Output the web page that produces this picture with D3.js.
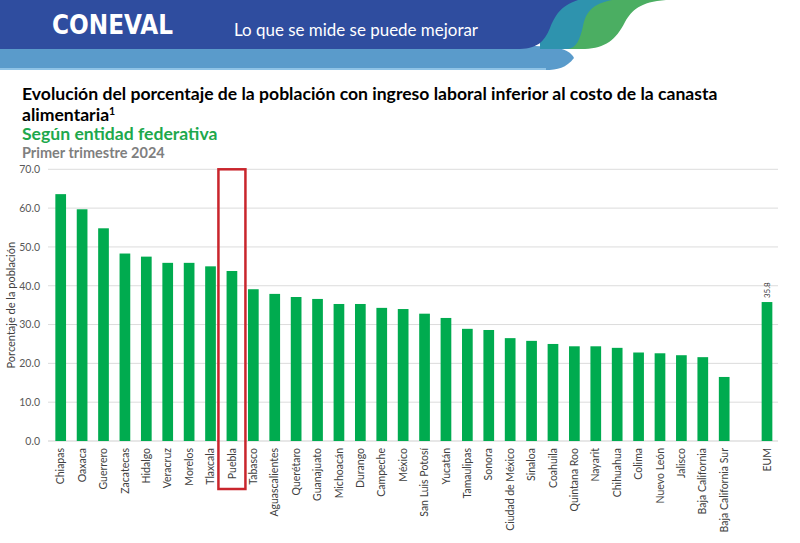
<!DOCTYPE html>
<html>
<head>
<meta charset="utf-8">
<script src="https://cdn.jsdelivr.net/npm/d3@7/dist/d3.min.js"></script>
<style>
  html, body { margin: 0; padding: 0; background: #fff; }
  svg { display: block; }
</style>
</head>
<body>
<svg id="chart" width="800" height="543"></svg>
<script>
// ---- Data ----
const states = ["Chiapas","Oaxaca","Guerrero","Zacatecas","Hidalgo","Veracruz","Morelos","Tlaxcala","Puebla","Tabasco","Aguascalientes","Querétaro","Guanajuato","Michoacán","Durango","Campeche","México","San Luis Potosí","Yucatán","Tamaulipas","Sonora","Ciudad de México","Sinaloa","Coahuila","Quintana Roo","Nayarit","Chihuahua","Colima","Nuevo León","Jalisco","Baja California","Baja California Sur"];
const stateValues = [63.6,59.7,54.8,48.3,47.5,45.9,45.9,45.0,43.8,39.1,37.9,37.1,36.6,35.3,35.3,34.3,34.0,32.8,31.7,28.9,28.6,26.5,25.8,25.0,24.4,24.4,24.0,22.8,22.6,22.1,21.6,16.5];
const nationalLabel = "EUM";
const nationalValue = 35.8;
const yTicks = [0,10,20,30,40,50,60,70];
const highlighted = "Puebla";

const titleLine1 = "Evolución del porcentaje de la población con ingreso laboral inferior al costo de la canasta";
const titleLine2 = "alimentaria";
const subtitle = "Según entidad federativa";
const period = "Primer trimestre 2024";
const yTitle = "Porcentaje de la población";

const bars = states.map((s, i) => ({ name: s, value: stateValues[i] }));
bars.push({ name: nationalLabel, value: nationalValue });

const svg = d3.select("#chart");
const FONT = "Lato, 'Open Sans', 'DejaVu Sans', sans-serif";

// ---- Header ----
const hdr = svg.append("g");
// light blue lower band
hdr.append("path")
  .attr("d", "M0,46 L530,46 C560,46 570,50 574,58 C566,68 558,70 545,70 L0,70 Z")
  .attr("fill", "#5A9BCB");
hdr.append("rect").attr("x",0).attr("y",68).attr("width",546).attr("height",2).attr("fill","#8fc3e6");
// green swoosh
hdr.append("path")
  .attr("d", "M560,0 L666,0 C640,2 632,10 625,22 C616,40 605,48 585,49 L560,49 Z")
  .attr("fill", "#4BAE62");
// teal swoosh
hdr.append("path")
  .attr("d", "M540,0 L612,0 C592,4 586,12 583,26 C580,40 576,48 568,49 L540,49 Z")
  .attr("fill", "#2E93AE");
// dark blue band
hdr.append("path")
  .attr("d", "M0,0 L578,0 C560,6 555,16 550,28 C544,42 538,48 520,49 L0,49 Z")
  .attr("fill", "#2F4D9F");

hdr.append("text")
  .attr("x", 52).attr("y", 34)
  .attr("fill", "#fff")
  .attr("font-family", "'DejaVu Sans Condensed', 'DejaVu Sans', sans-serif")
  .attr("font-weight", "bold")
  .attr("font-size", 27)
  .attr("textLength", 121).attr("lengthAdjust", "spacingAndGlyphs")
  .text("CONEVAL");
hdr.append("text")
  .attr("x", 234).attr("y", 36)
  .attr("fill", "#fff")
  .attr("font-family", FONT)
  .attr("font-size", 17)
  .attr("textLength", 244).attr("lengthAdjust", "spacingAndGlyphs")
  .text("Lo que se mide se puede mejorar");

// ---- Titles ----
const t1 = svg.append("text")
  .attr("x", 22).attr("y", 100)
  .attr("fill", "#000")
  .attr("font-family", FONT).attr("font-weight", "bold")
  .attr("font-size", 18)
  .text(titleLine1);
// fit width to reference
const w1 = t1.node().getComputedTextLength();
const fs = 18 * 696 / w1;
t1.attr("font-size", fs);
const t2 = svg.append("text")
  .attr("x", 22).attr("y", 121)
  .attr("fill", "#000")
  .attr("font-family", FONT).attr("font-weight", "bold")
  .attr("font-size", fs);
t2.append("tspan").text(titleLine2);
t2.append("tspan").attr("font-size", fs * 0.6).attr("dy", -6).text("1");

svg.append("text")
  .attr("x", 22).attr("y", 140)
  .attr("fill", "#1DA84C")
  .attr("font-family", FONT).attr("font-weight", "bold")
  .attr("font-size", fs)
  .text(subtitle);
svg.append("text")
  .attr("x", 22).attr("y", 158)
  .attr("fill", "#7F7F7F")
  .attr("font-family", FONT).attr("font-weight", "bold")
  .attr("font-size", 14.5)
  .text(period);

// ---- Scales ----
const domain = states.concat(["__gap__", nationalLabel]);
const x = d3.scaleBand().domain(domain).range([50, 777.7]).paddingInner(0.5).paddingOuter(0.25);
const y = d3.scaleLinear().domain([0, 70]).range([441, 169.3]);

// gridlines
const grid = svg.append("g");
grid.selectAll("line").data(yTicks).join("line")
  .attr("x1", 48).attr("x2", 778)
  .attr("y1", d => y(d)).attr("y2", d => y(d))
  .attr("stroke", d => d === 0 ? "#cfcfcf" : "#dcdcdc")
  .attr("stroke-width", 1);

// y axis labels
const yAxis = svg.append("g").attr("transform", "translate(48,0)")
  .call(d3.axisLeft(y).tickValues(yTicks).tickFormat(d3.format(".1f")).tickSize(0).tickPadding(8));
yAxis.select(".domain").remove();
yAxis.selectAll("text")
  .attr("fill", "#595959")
  .attr("font-family", FONT)
  .attr("font-size", 10.5);

svg.append("text")
  .attr("transform", `translate(15,${(y(0)+y(70))/2}) rotate(-90)`)
  .attr("text-anchor", "middle")
  .attr("fill", "#404040")
  .attr("font-family", FONT)
  .attr("font-size", 11)
  .text(yTitle);

// bars
svg.append("g").selectAll("rect").data(bars).join("rect")
  .attr("x", d => x(d.name))
  .attr("width", x.bandwidth())
  .attr("y", d => y(d.value))
  .attr("height", d => y(0) - y(d.value))
  .attr("fill", "#00AB4F");

// x labels
const xAxis = svg.append("g").attr("transform", `translate(0,${y(0)})`)
  .call(d3.axisBottom(x).tickValues(states.concat([nationalLabel])).tickSize(0).tickPadding(0));
xAxis.select(".domain").remove();
xAxis.selectAll("text")
  .attr("transform", "rotate(-90)")
  .attr("text-anchor", "end")
  .attr("x", -7).attr("y", 0).attr("dy", "0.35em")
  .attr("fill", "#404040")
  .attr("font-family", FONT)
  .attr("font-size", 10.5);

// national value label
svg.append("text")
  .attr("transform", `translate(${x(nationalLabel) + x.bandwidth()/2},${y(nationalValue) - 4}) rotate(-90)`)
  .attr("text-anchor", "start")
  .attr("dy", "0.35em")
  .attr("fill", "#404040")
  .attr("font-family", FONT)
  .attr("font-size", 8)
  .text(d3.format(".1f")(nationalValue));

// highlight box around Puebla
const hx = x(highlighted) + x.bandwidth()/2;
svg.append("rect")
  .attr("x", hx - 13.5).attr("y", y(70))
  .attr("width", 27).attr("height", 489 - y(70))
  .attr("fill", "none")
  .attr("stroke", "#C9252C")
  .attr("stroke-width", 2.5);
</script>
</body>
</html>
